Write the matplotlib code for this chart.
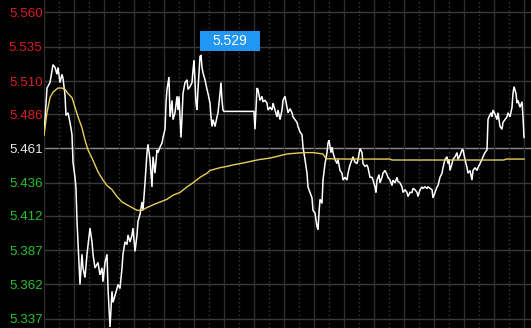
import matplotlib
matplotlib.use("Agg")
import matplotlib.pyplot as plt
from matplotlib.path import Path

# ---------------- data ----------------
price_minutes = [0, 1.5, 3, 4.5, 5.5, 6.5, 7, 8, 9, 9.5, 10.5, 11, 12, 13, 14, 14.5, 15.5, 16, 16.5, 17, 17.5,
                 18, 19, 19.5, 20.5, 21.5, 23, 24, 24.5, 25.5, 27, 28, 29, 29.5, 30.5, 31.5, 32, 33, 34, 34.5,
                 35.5, 36.5, 37, 38, 39, 39.5, 40.5, 41.5, 42, 43, 44, 44.5, 45.5, 46.5, 47, 48, 49, 49.5,
                 50.5, 51.5, 52, 53, 54, 54.5, 55.5, 56.5, 57, 58, 59, 59.5, 60.5, 61, 61.5, 62.5, 63, 64,
                 64.5, 65.5, 66.5, 67, 67.5, 68.5, 69, 69.5, 70.5, 71.5, 72, 73, 74, 74.5, 75, 76, 76.5, 77,
                 78, 78.5, 79, 79.5, 80.5, 81.5, 82, 83, 83.5, 84, 84.5, 85.5, 86.5, 87, 88, 88.5, 89, 89.5,
                 90, 105, 105.5, 106.5, 107, 108, 109, 109.5, 110.5, 111.5, 112, 113, 114, 114.5, 115.5,
                 116.5, 117, 118, 119, 119.5, 120.5, 121.5, 122, 123, 124, 124.5, 125.5, 126.5, 127, 128,
                 129, 129.5, 130.5, 131.5, 132, 133, 134, 134.5, 135.5, 136.5, 137, 137.5, 138, 139, 139.5,
                 140.5, 141.5, 142, 142.5, 143.5, 144, 144.5, 145.5, 146.5, 147, 148, 149, 149.5, 150.5,
                 151.5, 152, 153, 154, 154.5, 155.5, 156.5, 157, 158, 159, 159.5, 160.5, 161.5, 162, 163,
                 164, 164.5, 165.5, 166, 166.5, 167.5, 168, 169, 169.5, 170.5, 171.5, 172, 173, 174, 174.5,
                 175.5, 176.5, 177, 178, 179, 179.5, 180.5, 181.5, 182, 183, 184, 184.5, 185.5, 186.5, 187,
                 188, 189, 189.5, 190.5, 191.5, 192, 193, 194, 194.5, 195.5, 196.5, 197, 198, 199, 199.5,
                 200.5, 201.5, 202, 202.5, 203, 204, 204.5, 205.5, 206.5, 207, 208, 209, 209.5, 210.5, 211.5,
                 212, 213, 214, 214.5, 215.5, 216.5, 217, 218, 219, 219.5, 220.5, 221.5, 222, 222.5, 223.5,
                 224, 224.5, 225.5, 226.5, 227, 228, 229, 229.5, 230.5, 231.5, 232, 233, 234, 234.5, 235,
                 236, 236.5, 237, 238, 239, 239.5, 240]
prices = [5.471, 5.505, 5.509, 5.522, 5.520, 5.515, 5.520, 5.509, 5.515, 5.512, 5.500, 5.485, 5.487, 5.480,
          5.471, 5.451, 5.440, 5.432, 5.408, 5.393, 5.378, 5.362, 5.384, 5.374, 5.367, 5.384, 5.403, 5.393,
          5.384, 5.374, 5.378, 5.369, 5.374, 5.364, 5.378, 5.384, 5.359, 5.331, 5.357, 5.349, 5.354, 5.359,
          5.362, 5.359, 5.374, 5.384, 5.393, 5.391, 5.398, 5.393, 5.398, 5.403, 5.386, 5.398, 5.408, 5.413,
          5.422, 5.416, 5.436, 5.458, 5.464, 5.453, 5.433, 5.455, 5.443, 5.460, 5.458, 5.462, 5.465, 5.469,
          5.475, 5.494, 5.504, 5.513, 5.484, 5.496, 5.482, 5.487, 5.499, 5.489, 5.499, 5.469, 5.484, 5.501,
          5.509, 5.511, 5.504, 5.506, 5.509, 5.518, 5.525, 5.494, 5.489, 5.504, 5.528, 5.529, 5.520, 5.516,
          5.511, 5.504, 5.501, 5.494, 5.484, 5.477, 5.482, 5.477, 5.484, 5.487, 5.501, 5.509, 5.496, 5.489,
          5.488, 5.488, 5.475, 5.505, 5.504, 5.496, 5.499, 5.495, 5.496, 5.494, 5.489, 5.491, 5.489, 5.494,
          5.489, 5.484, 5.489, 5.482, 5.489, 5.496, 5.499, 5.491, 5.487, 5.490, 5.487, 5.484, 5.482, 5.480,
          5.477, 5.473, 5.471, 5.462, 5.453, 5.443, 5.433, 5.429, 5.425, 5.416, 5.414, 5.404, 5.402, 5.414,
          5.424, 5.421, 5.438, 5.450, 5.458, 5.465, 5.467, 5.458, 5.462, 5.458, 5.453, 5.450, 5.453, 5.445,
          5.443, 5.438, 5.440, 5.438, 5.443, 5.449, 5.453, 5.455, 5.451, 5.450, 5.453, 5.461, 5.458, 5.450,
          5.448, 5.449, 5.447, 5.440, 5.440, 5.438, 5.433, 5.429, 5.438, 5.442, 5.436, 5.440, 5.443, 5.445,
          5.442, 5.440, 5.438, 5.434, 5.438, 5.436, 5.440, 5.437, 5.436, 5.433, 5.429, 5.431, 5.429, 5.426,
          5.429, 5.429, 5.432, 5.431, 5.429, 5.426, 5.431, 5.433, 5.432, 5.433, 5.432, 5.433, 5.432, 5.431,
          5.425, 5.429, 5.433, 5.434, 5.440, 5.443, 5.447, 5.453, 5.455, 5.450, 5.453, 5.445, 5.450, 5.453,
          5.455, 5.458, 5.453, 5.456, 5.460, 5.460, 5.453, 5.447, 5.443, 5.445, 5.438, 5.445, 5.447, 5.445,
          5.447, 5.450, 5.453, 5.455, 5.458, 5.460, 5.482, 5.484, 5.487, 5.484, 5.489, 5.486, 5.482, 5.487,
          5.477, 5.475, 5.480, 5.482, 5.484, 5.487, 5.484, 5.491, 5.501, 5.506, 5.501, 5.494, 5.496, 5.491,
          5.495, 5.484, 5.469]

avg_minutes = [0, 1.5, 3, 4.5, 7, 9, 10.5, 12, 14, 15.5, 17, 19, 20.5, 22, 24, 25.5, 27, 29.5, 31.5, 34,
               36.5, 39, 41.5, 44, 46.5, 49, 51.5, 54.5, 58, 61.5, 64.5, 68, 71.5, 74.5, 78, 81.5, 83, 88,
               91.5, 94.5, 98, 101.5, 104.5, 108, 113, 121.5, 129.5, 134.5, 139.5, 141, 153, 173, 174, 230,
               231, 240]
avg_prices = [5.471, 5.487, 5.498, 5.502, 5.505, 5.505, 5.504, 5.501, 5.498, 5.491, 5.484, 5.476, 5.467,
              5.460, 5.454, 5.449, 5.444, 5.438, 5.434, 5.431, 5.426, 5.422, 5.420, 5.418, 5.416, 5.416,
              5.418, 5.420, 5.422, 5.424, 5.427, 5.429, 5.433, 5.436, 5.440, 5.443, 5.445, 5.447, 5.448,
              5.449, 5.450, 5.451, 5.452, 5.453, 5.454, 5.457, 5.458, 5.458, 5.457, 5.4535, 5.4533,
              5.4533, 5.4526, 5.4526, 5.4533, 5.4533]

tick_values = [5.560, 5.535, 5.510, 5.486, 5.461, 5.436, 5.412, 5.387, 5.362, 5.337]
tick_labels = ["5.560", "5.535", "5.510", "5.486", "5.461", "5.436", "5.412", "5.387", "5.362", "5.337"]
pre_close = 5.461

# ---------------- style ----------------
W, H = 531, 328
fig = plt.figure(figsize=(W / 100, H / 100), dpi=100, facecolor="black")
left = 44 / W
ax = fig.add_axes([left, 0, 1 - left, 1], facecolor="black")
ax.set_xlim(0, 243.5)
ax.set_ylim(5.3303, 5.5691)
for s in ax.spines.values():
    s.set_visible(False)

# grid
for v in tick_values:
    if v == pre_close:
        ax.axhline(v, color="#8c8c8c", lw=1.0, zorder=1)
    else:
        ax.axhline(v, color="#3a3a3a", lw=1.0, zorder=1)
for k in range(17):
    ax.axvline(15 * k, color="#2f2f2f", lw=1.0, zorder=1)
for k in range(16):
    ax.axvline(15 * k + 7.5, color="#3c3c3c", lw=1.0, ls=(0, (1, 2)), zorder=1)

ax.plot(price_minutes, prices, color="white", lw=1.1, zorder=3, solid_joinstyle="miter")
ax.plot(avg_minutes, avg_prices, color="#e6cf5c", lw=1.0, zorder=4)

# y labels
ax.set_xticks([])
ax.set_yticks(tick_values)
ax.set_yticklabels(tick_labels, fontfamily="Liberation Sans", fontsize=9.6)
ax.tick_params(axis="y", length=0, pad=1)
for lab, v in zip(ax.get_yticklabels(), tick_values):
    if v > pre_close:
        lab.set_color("#d81e22")
    elif v < pre_close:
        lab.set_color("#24c32c")
    else:
        lab.set_color("#ececec")


# high-price label
def label_box(x0, y0, width, height, mutation_size):
    cx = x0 + width / 2
    cy = y0 + height / 2
    w2, h2 = 30, 10
    return Path([(cx - w2, cy - h2), (cx + w2, cy - h2), (cx + w2, cy + h2), (cx - w2, cy + h2),
                 (cx - w2, cy - h2)], closed=True)


peak = max(prices)
peak_t = price_minutes[prices.index(peak)]
ax.annotate(f"{peak:.3f}", xy=(peak_t, peak), xytext=(29, 14), textcoords="offset pixels",
            ha="center", va="center", color="white", fontsize=10, fontfamily="Liberation Sans",
            bbox=dict(boxstyle=label_box, fc="#2196f3", ec="none"), zorder=6)

fig.savefig("out.png", dpi=100, facecolor="black")
